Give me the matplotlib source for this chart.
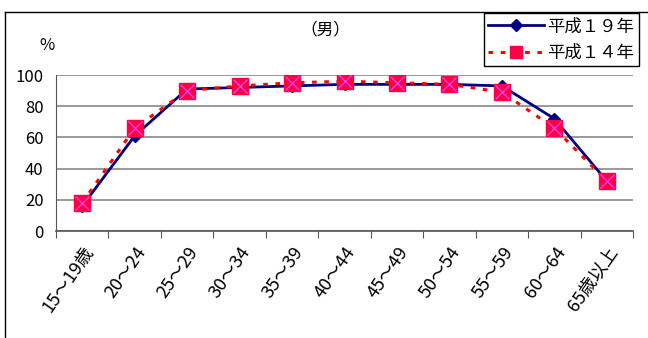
import matplotlib.pyplot as plt
from matplotlib.lines import Line2D

plt.rcParams['font.family'] = ['Noto Sans CJK JP', 'DejaVu Sans']

# 年齢階級別労働力率（男）
age_groups = ["15～19歳", "20～24", "25～29", "30～34", "35～39", "40～44",
              "45～49", "50～54", "55～59", "60～64", "65歳以上"]
h19 = [16, 61, 91, 92, 93, 94, 94, 94, 93, 72, 32]
h14 = [18, 66, 90, 93, 95, 96, 95, 94, 89, 66, 32]
y_ticks = [0, 20, 40, 60, 80, 100]

W, H = 648, 338
fig = plt.figure(figsize=(W / 100, H / 100), dpi=100)
ax = fig.add_axes([56 / W, 1 - 231 / H, (633 - 56) / W, (231 - 75) / H])

x = list(range(len(age_groups)))
ax.plot(x, h19, color="#000080", lw=2.0, marker="D", ms=6,
        mfc="#000080", mec="#000080", zorder=3)
ax.plot(x, h14, color="#ff0000", lw=2.2, ls=(0, (1.5, 2.5)), zorder=4)
ax.plot(x, h14, ls="none", marker="s", ms=11, mfc="#ff0044", mec="#ff0044", zorder=5)
ax.plot(x, h14, ls="none", marker="x", ms=10, mew=0.9, mec="#ff44ff", zorder=6)

ax.set_xlim(-0.5, len(age_groups) - 0.5)
ax.set_ylim(0, 100)
ax.set_yticks(y_ticks)
ax.yaxis.grid(True, color="#888888", lw=1.2)
ax.set_axisbelow(True)
ax.tick_params(axis="y", length=0, labelsize=12, pad=9)

ax.set_xticks([i - 0.5 for i in range(len(age_groups) + 1)])
ax.set_xticklabels([])
ax.tick_params(axis="x", which="major", length=5, direction="out", color="#555555")
ax.set_xticks(x, minor=True)
ax.set_xticklabels(age_groups, minor=True, rotation=55, ha="right",
                   rotation_mode="anchor", fontsize=13)
ax.tick_params(axis="x", which="minor", length=0, pad=9)

for side in ("top", "right"):
    ax.spines[side].set_visible(False)
ax.spines["left"].set_color("#555555")
ax.spines["bottom"].set_color("#555555")
ax.spines["bottom"].set_linewidth(1.2)

fig.text(325 / W, 1 - 30 / H, "（男）", ha="center", va="center", fontsize=12)
fig.text(47 / W, 1 - 45 / H, "%", ha="center", va="center", fontsize=12)

handles = [
    Line2D([], [], color="#000080", lw=2.0, marker="D", ms=6),
    Line2D([], [], color="#ff0000", lw=2.2, ls=(0, (1.5, 2.5)), marker="s",
           ms=9, mfc="#ff0044", mec="#ff0044"),
]
fig.legend(handles, ["平成１９年", "平成１４年"], loc="upper left",
           bbox_to_anchor=(484 / W, 1 - 13 / H), frameon=True, fancybox=False,
           edgecolor="black", framealpha=1, fontsize=12.5, handlelength=3.2,
           borderpad=0.25, labelspacing=0.5, handletextpad=0.2, borderaxespad=0)

# 外枠
fig.add_artist(Line2D([5 / W, 5 / W], [0, 1 - 12 / H], color="black", lw=1))
fig.add_artist(Line2D([5 / W, 1], [1 - 12 / H, 1 - 12 / H], color="black", lw=1))

fig.savefig("out.png", dpi=100)
